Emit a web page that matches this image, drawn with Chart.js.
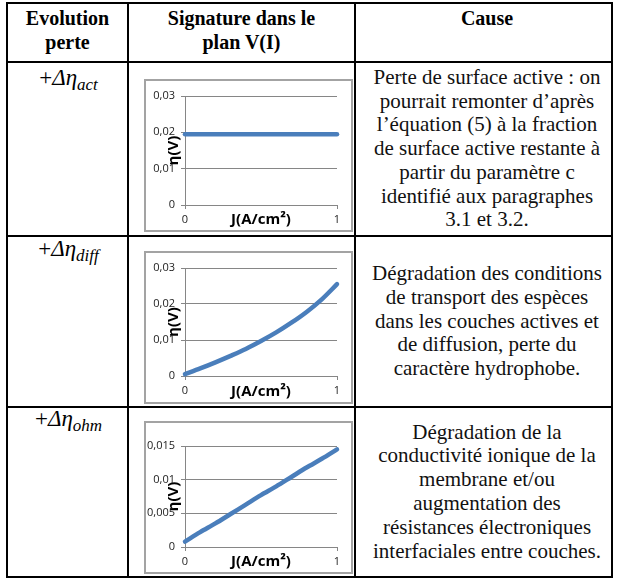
<!DOCTYPE html>
<html>
<head>
<meta charset="utf-8">
<script src="https://cdn.jsdelivr.net/npm/chart.js@4"></script>
<style>
  body { margin: 0; background: #fff; }
  #page { position: relative; width: 617px; height: 579px; overflow: hidden;
          font-family: "Liberation Serif", "Times New Roman", serif; color: #111; }
  .hl, .vl { position: absolute; background: #000; }
  .hl { left: 6px; width: 607px; height: 2px; }
  .vl { top: 2px; height: 576px; width: 2px; }
  .cell { position: absolute; display: flex; flex-direction: column; align-items: center; text-align: center; }
  .head { font-weight: bold; font-size: 20px; line-height: 24px; top: 6px; color: #000; }
  .cause { left: 360px; width: 254px; font-size: 21px; line-height: 23.8px; justify-content: center; }
  .loss { left: 10px; width: 117px; font-size: 23px; line-height: 26px; color: #000; }
  .loss i { font-style: italic; }
  .loss sub { font-size: 17px; font-style: italic; vertical-align: -5px; line-height: 0; }
  .chart { position: absolute; left: 144px; width: 205px; height: 149px; border: 2px solid #a3a3a3; }
</style>
</head>
<body>
<div id="page">
  <div class="hl" style="top:2px"></div>
  <div class="hl" style="top:61px"></div>
  <div class="hl" style="top:235px"></div>
  <div class="hl" style="top:406px"></div>
  <div class="hl" style="top:576px"></div>
  <div class="vl" style="left:6px"></div>
  <div class="vl" style="left:127px"></div>
  <div class="vl" style="left:354px"></div>
  <div class="vl" style="left:611px"></div>

  <div class="cell head" style="left:8px;width:119px">Evolution<br>perte</div>
  <div class="cell head" style="left:129px;width:225px">Signature dans le<br>plan V(I)</div>
  <div class="cell head" style="left:360px;width:254px">Cause</div>

  <div class="cell loss" style="top:65px"><span>+<i>Δη<sub>act</sub></i></span></div>
  <div class="cell loss" style="top:236px"><span>+<i>Δη<sub>diff</sub></i></span></div>
  <div class="cell loss" style="top:406px"><span>+<i>Δη<sub>ohm</sub></i></span></div>

  <div class="chart" style="top:79px"><canvas id="cAct"></canvas></div>
  <div class="chart" style="top:251px"><canvas id="cDiff"></canvas></div>
  <div class="chart" style="top:421px"><canvas id="cOhm"></canvas></div>

  <div class="cell cause" style="top:63px;height:172px">Perte de surface active : on<br>pourrait remonter d’après<br>l’équation (5) à la fraction<br>de surface active restante à<br>partir du paramètre c<br>identifié aux paragraphes<br>3.1 et 3.2.</div>
  <div class="cell cause" style="top:237px;height:169px">Dégradation des conditions<br>de transport des espèces<br>dans les couches actives et<br>de diffusion, perte du<br>caractère hydrophobe.</div>
  <div class="cell cause" style="top:408px;height:168px">Dégradation de la<br>conductivité ionique de la<br>membrane et/ou<br>augmentation des<br>résistances électroniques<br>interfaciales entre couches.</div>
</div>

<script>
// current density J (A/cm²) and overpotential curves
const current = [0, 0.1, 0.2, 0.3, 0.4, 0.5, 0.6, 0.7, 0.8, 0.9, 1];
const etaAct  = [0.0195, 0.0195, 0.0195, 0.0195, 0.0195, 0.0195, 0.0195, 0.0195, 0.0195, 0.0195, 0.0195];
const etaDiff = [0.0005, 0.0021, 0.0038, 0.0056, 0.0075, 0.0097, 0.0121, 0.0148, 0.0178, 0.0213, 0.0255];
const etaOhm  = [0.0008, 0.0022, 0.0035, 0.0049, 0.0063, 0.0077, 0.0090, 0.0104, 0.0118, 0.0131, 0.0145];

const xTicks = [0, 1];
const yTicksLarge = [0, 0.01, 0.02, 0.03];
const yTicksSmall = [0, 0.005, 0.01, 0.015];

Chart.defaults.font.family = "Open Sans";

function fmt(v) {
    return String(parseFloat(v.toPrecision(6))).replace('.', ',');
}

function makeChart(id, values, yTicks, top, bottom) {
    const ctx = document.getElementById(id).getContext("2d");
    return new Chart(ctx, {
        type: "line",
        data: {
            datasets: [{
                data: current.map((j, i) => ({ x: j, y: values[i] })),
                borderColor: "#4a7ebb",
                borderWidth: 4.5,
                borderCapStyle: "round",
                pointRadius: 0,
                tension: 0.3,
                clip: false
            }]
        },
        options: {
            responsive: true,
            maintainAspectRatio: false,
            animation: false,
            layout: { padding: { top: top, right: 14, bottom: 0, left: 0 } },
            plugins: { legend: { display: false }, tooltip: { enabled: false } },
            scales: {
                x: {
                    type: "linear",
                    min: 0,
                    max: 1,
                    afterBuildTicks: s => { s.ticks = xTicks.map(v => ({ value: v })); },
                    afterFit: s => { s.height = 149 - bottom; },
                    grid: { drawOnChartArea: false, color: "#868686", tickLength: 4 },
                    border: { color: "#868686" },
                    ticks: { color: "#222", font: { size: 11 }, padding: 4, maxRotation: 0 },
                    title: {
                        display: true, text: "J(A/cm²)", color: "#000",
                        font: { size: 15, weight: "bold" },
                        padding: { top: 0, bottom: 1 }
                    }
                },
                y: {
                    min: 0,
                    max: yTicks[yTicks.length - 1],
                    afterBuildTicks: s => { s.ticks = yTicks.map(v => ({ value: v })); },
                    afterFit: s => { s.width = 39; },
                    grid: { color: "#868686", tickLength: 4 },
                    border: { color: "#868686" },
                    ticks: { color: "#222", font: { size: 11 }, padding: 6, callback: v => fmt(v) },
                    title: {
                        display: true, text: "η(V)", color: "#000",
                        font: { size: 15, weight: "bold" },
                        padding: { top: 19, bottom: 0 }
                    }
                }
            }
        }
    });
}

makeChart("cAct", etaAct, yTicksLarge, 15, 124);
makeChart("cDiff", etaDiff, yTicksLarge, 15, 123);
makeChart("cOhm", etaOhm, yTicksSmall, 23, 124);
</script>
</body>
</html>
